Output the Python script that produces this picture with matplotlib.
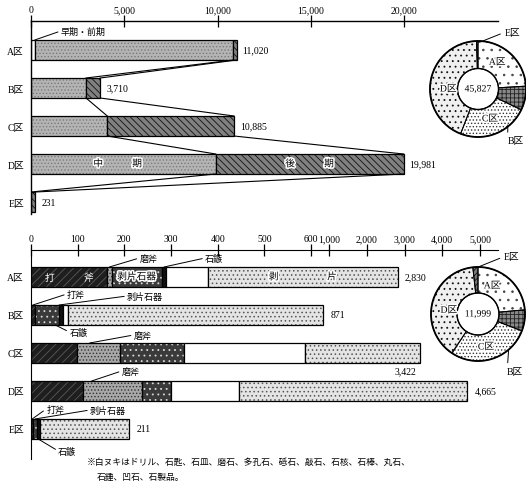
import numpy as np
import matplotlib
matplotlib.use('Agg')
import matplotlib.pyplot as plt
from matplotlib import patheffects as pe

plt.rcParams['font.family'] = ['Liberation Serif', 'Noto Sans CJK JP']
plt.rcParams['hatch.linewidth'] = 0.6

# ---------------- data ----------------
areas = ['A区', 'B区', 'C区', 'D区', 'E区']
# upper chart (pottery counts by period)
early = [200, 0, 0, 0, 0]
middle = [10650, 2950, 4090, 9900, 0]
late = [170, 760, 6795, 10081, 231]
totals_top = [11020, 3710, 10885, 19981, 231]
top_ticks = [0, 5000, 10000, 15000, 20000]

# lower chart (stone tools)
tool_types = ['打斧', '磨斧', '剥片石器', '石鏃', '白ヌキ', '剥片']
tools = {
    'A区': [163, 10, 107, 10, 89, 2451],
    'B区': [8, 0, 52, 8, 11, 792],
    'C区': [98, 92, 137, 0, 260, 2835],
    'D区': [111, 126, 64, 0, 144, 4220],
    'E区': [5, 0, 7, 7, 0, 192],
}
totals_bottom = [2830, 871, 3422, 4665, 211]
bottom_ticks = [0, 100, 200, 300, 400, 500, 600, 1000, 2000, 3000, 4000, 5000]

pie_top_total = 45827
pie_bottom_total = 11999

W, H = 526, 489
fig = plt.figure(figsize=(W / 100, H / 100), dpi=100)


def axes_px(x0, y0, x1, y1):
    return fig.add_axes([x0 / W, 1 - y1 / H, (x1 - x0) / W, (y1 - y0) / H])


FS = 7
halo = [pe.withStroke(linewidth=2.2, foreground='white')]

# ---------------- upper chart ----------------
ax1 = axes_px(31, 22, 498, 215)
ax1.set_xlim(0, 20000 * (498 - 31) / (404 - 31))
ax1.set_ylim(4 + 12 / 38, -29 / 38)
h = 20 / 38
for s in ['right', 'bottom']:
    ax1.spines[s].set_visible(False)
ax1.spines['top'].set_linewidth(1.0)
ax1.spines['left'].set_linewidth(1.0)
ax1.xaxis.tick_top()
ax1.set_xticks(top_ticks, [f'{t:,}' for t in top_ticks])
ax1.tick_params(axis='x', direction='inout', length=8, width=0.9, labelsize=FS, pad=1)
ax1.set_yticks(range(5), areas)
ax1.tick_params(axis='y', length=0, labelsize=FS, pad=5)

styles_top = [
    dict(fc='white', hatch=None, hc='k'),
    dict(fc='#b4b4b4', hatch='.....', hc='#7a7a7a'),
    dict(fc='#808080', hatch='\\\\\\\\\\', hc='#111111'),
]
for i in range(5):
    left = 0
    for v, st in zip([early[i], middle[i], late[i]], styles_top):
        if v > 0:
            ax1.barh(i, v, left=left, height=h, color=st['fc'], hatch=st['hatch'],
                     edgecolor=st['hc'], linewidth=0)
            ax1.barh(i, v, left=left, height=h, fill=False, edgecolor='k', linewidth=0.9)
        left += v
    ax1.annotate(f'{totals_top[i]:,}', (totals_top[i], i), xytext=(6, 0),
                 textcoords='offset pixels', va='center', ha='left', fontsize=FS)

# connectors
for i in range(4):
    m0 = early[i] + middle[i]
    m1 = early[i + 1] + middle[i + 1]
    ax1.plot([m0, m1], [i + h / 2, i + 1 - h / 2], color='k', lw=0.8)
    ax1.plot([totals_top[i], totals_top[i + 1]], [i + h / 2, i + 1 - h / 2], color='k', lw=0.8)

ax1.annotate('早期・前期', (early[0], -h / 2), xytext=(26, 9), textcoords='offset pixels',
             fontsize=6.5, va='center', ha='left',
             arrowprops=dict(arrowstyle='-', lw=0.7, shrinkA=0, shrinkB=0, relpos=(0, 0.5)))
ax1.text(early[3] + middle[3] / 2 - 300, 3, '中　　　期', ha='center', va='center',
         fontsize=FS, path_effects=halo)
ax1.text(early[3] + middle[3] + late[3] / 2, 3, '後　　　期', ha='center', va='center',
         fontsize=FS, path_effects=halo)

# ---------------- lower chart ----------------
BX = [0, 600, 1000, 5000, 6000]
BP = [0, 280, 298, 449, 486.75]


def fwd(x):
    return np.interp(x, BX, BP)


def inv(p):
    return np.interp(p, BP, BX)


ax2 = axes_px(31, 251, 498, 460)
ax2.set_xscale('function', functions=(fwd, inv))
ax2.set_xlim(0, inv(467))
ax2.set_ylim(4 + 30 / 38, -27 / 38)
for s in ['right', 'bottom']:
    ax2.spines[s].set_visible(False)
ax2.xaxis.tick_top()
ax2.set_xticks(bottom_ticks, [f'{t:,}' for t in bottom_ticks])
ax2.xaxis.set_minor_locator(matplotlib.ticker.NullLocator())
ax2.tick_params(axis='x', direction='inout', length=8, width=0.9, labelsize=FS, pad=1)
ax2.set_yticks(range(5), areas)
ax2.tick_params(axis='y', length=0, labelsize=FS, pad=5)

styles_bottom = [
    dict(fc='#1e1e1e', hatch='////', hc='#5a5a5a'),
    dict(fc='#a8a8a8', hatch='.....', hc='#333333'),
    dict(fc='#3a3a3a', hatch='...', hc='#d8d8d8'),
    dict(fc='#111111', hatch=None, hc='k'),
    dict(fc='white', hatch=None, hc='k'),
    dict(fc='#e4e4e4', hatch='....', hc='#555555'),
]
for i, a in enumerate(areas):
    left = 0
    for v, st in zip(tools[a], styles_bottom):
        if v > 0:
            ax2.barh(i, v, left=left, height=h, color=st['fc'], hatch=st['hatch'],
                     edgecolor=st['hc'], linewidth=0)
            ax2.barh(i, v, left=left, height=h, fill=False, edgecolor='k', linewidth=0.9)
        left += v

for i in [0, 1, 3, 4]:
    ax2.annotate(f'{totals_bottom[i]:,}', (totals_bottom[i], i), xytext=(7, 0),
                 textcoords='offset pixels', va='center', ha='left', fontsize=FS)
ax2.annotate(f'{totals_bottom[2]:,}', (totals_bottom[2], 2 + h / 2), xytext=(-4, -8),
             textcoords='offset pixels', va='center', ha='right', fontsize=FS)

# leader labels
lead = dict(arrowstyle='-', lw=0.7, shrinkA=0, shrinkB=0)


def leader(name, area_i, xval, top, dx, dy, rel):
    y = area_i - h / 2 if top else area_i + h / 2
    ax2.annotate(name, (xval, y), xytext=(dx, dy), textcoords='offset pixels',
                 fontsize=6.5, va='center', ha='left' if rel == 0 else 'right',
                 arrowprops=dict(lead, relpos=(rel, 0.5)))


tA = tools['A区']
leader('磨斧', 0, tA[0] + tA[1] / 2, True, 30, 9, 0)
leader('石鏃', 0, sum(tA[:3]) + tA[3] / 2, True, 41, 9, 0)
tB = tools['B区']
leader('打斧', 1, tB[0] / 2, True, 34, 11, 0)
leader('剥片石器', 1, sum(tB[:3]), True, 68, 9, 0)
leader('石鏃', 1, sum(tB[:3]) + tB[3] / 2 - 12, False, 14, -7, 0)
tC = tools['C区']
leader('磨斧', 2, tC[0] + tC[1] * 0.3, True, 44, 8, 0)
tD = tools['D区']
leader('磨斧', 3, tD[0] + tD[1] * 0.15, True, 30, 10, 0)
tE = tools['E区']
leader('打斧', 4, tE[0] / 2, True, 14, 10, 0)
leader('剥片石器', 4, tE[0] + tE[2] / 2, True, 55, 9, 0)
leader('石鏃', 4, tE[0] + tE[2] + tE[3] / 2, False, 20, -12, 0)

ax2.text(tA[0] / 2, 0, '打　　　斧', ha='center', va='center', fontsize=FS, color='white')
ax2.text(tA[0] + tA[1] + tA[2] / 2, 0, '剥片石器', ha='center', va='center', fontsize=FS,
         path_effects=halo)
ax2.text(inv(fwd(sum(tA[:5])) + 95), 0, '剥　　　　　片', ha='center', va='center',
         fontsize=FS, path_effects=halo)

# ---------------- pies ----------------
pie_styles = [
    dict(fc='white', hatch='..', hc='#444444'),     # A
    dict(fc='#888888', hatch='++++', hc='#222222'),  # B
    dict(fc='white', hatch='.....', hc='#333333'),    # C
    dict(fc='#f0f0f0', hatch='...', hc='#111111'),     # D
    dict(fc='#777777', hatch='//////', hc='#111111'),  # E
]


def draw_pie(cx, cy, r, rin, values, total, lab_pos):
    s = 1.5
    ax = axes_px(cx - s * r, cy - s * r, cx + s * r, cy + s * r)
    ax.set_xlim(-s, s)
    ax.set_ylim(-s, s)
    ax.set_aspect('equal')
    ax.axis('off')
    wedges, _ = ax.pie(values, startangle=90, counterclock=False, radius=1,
                       wedgeprops=dict(width=1 - rin / r, linewidth=0.8, edgecolor='k'))
    for w, st in zip(wedges, pie_styles):
        w.set_facecolor(st['fc'])
        w.set_hatch(st['hatch'])
        w.set_edgecolor(st['hc'])
        w.set_linewidth(0)
    ax.pie(values, startangle=90, counterclock=False, radius=1,
           wedgeprops=dict(width=1 - rin / r, linewidth=0.7, edgecolor='k', fill=False))
    ax.add_patch(plt.Circle((0, 0), 1, fill=False, lw=1.3, color='k'))
    ax.add_patch(plt.Circle((0, 0), rin / r, fill=False, lw=1.0, color='k'))
    ax.set_xlim(-s, s)
    ax.set_ylim(-s, s)
    ax.text(0, 0, f'{total:,}', ha='center', va='center', fontsize=FS, path_effects=halo)
    for name, (x, y, kind, ex, ey) in zip(areas, lab_pos):
        if kind == 'in':
            ax.text(x, y, name, ha='center', va='center', fontsize=FS, path_effects=halo)
        else:
            ax.annotate(name, (ex, ey), xytext=(x, y), textcoords='data', ha='left', va='center',
                        fontsize=FS, annotation_clip=False,
                        arrowprops=dict(arrowstyle='-', lw=0.7, shrinkA=1, shrinkB=0, relpos=(0, 0.5)))
    return ax


draw_pie(478, 90, 48, 20.5, totals_top, pie_top_total,
         [(0.40, 0.56, 'in', 0, 0),
          (0.62, -1.08, 'out', 0.62, -0.75),
          (0.25, -0.62, 'in', 0, 0),
          (-0.62, 0.0, 'in', 0, 0),
          (0.55, 1.18, 'out', 0.05, 0.98)])
draw_pie(478, 315, 47, 21, totals_bottom, pie_bottom_total,
         [(0.30, 0.60, 'in', 0, 0),
          (0.62, -1.22, 'out', 0.65, -0.78),
          (0.17, -0.70, 'in', 0, 0),
          (-0.62, 0.08, 'in', 0, 0),
          (0.55, 1.22, 'out', -0.02, 0.99)])

# ---------------- footnote ----------------
fig.text(87 / W, 1 - 462 / H, '※白ヌキはドリル、石匙、石皿、磨石、多孔石、砥石、敲石、石核、石棒、丸石、',
         fontsize=6.3, va='center', ha='left')
fig.text(97 / W, 1 - 478 / H, '石錘、凹石、石製品。', fontsize=6.3, va='center', ha='left')

fig.savefig('out.png', dpi=100)
